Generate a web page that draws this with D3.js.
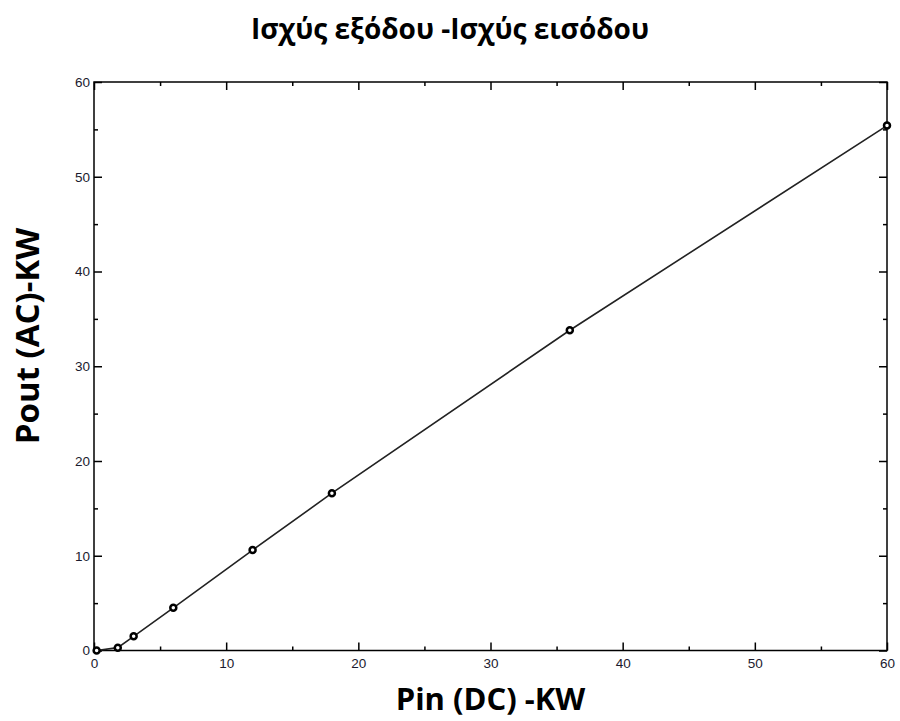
<!DOCTYPE html>
<html>
<head>
<meta charset="utf-8">
<script src="https://cdn.jsdelivr.net/npm/d3@7"></script>
<style>
  body { margin: 0; background: #fff; }
  svg { display: block; }
</style>
</head>
<body>
<svg width="900" height="721"></svg>
<script>
// data
var pinDC = [0.2, 1.8, 3, 6, 12, 18, 36, 60];
var poutAC = [0, 0.3, 1.5, 4.5, 10.6, 16.6, 33.8, 55.4];
var xTicks = [0, 10, 20, 30, 40, 50, 60];
var yTicks = [0, 10, 20, 30, 40, 50, 60];
var titleText = "Ισχύς εξόδου -Ισχύς εισόδου";
var xLabel = "Pin (DC) -KW";
var yLabel = "Pout (AC)-KW";

var svg = d3.select("svg");
var mLeft = 94, mRight = 887, mTop = 82, mBottom = 650.5;

var x = d3.scaleLinear().domain([0, 60]).range([mLeft, mRight]);
var y = d3.scaleLinear().domain([0, 60]).range([mBottom, mTop]);

var minorX = d3.range(5, 60, 10), minorY = d3.range(5, 60, 10);

// axes on all four sides, ticks pointing inward
function styleAxis(g) {
  g.select(".domain").remove();
  g.selectAll("line").attr("stroke", "#000").attr("stroke-width", 1.5);
  g.selectAll("text").attr("font-family", "Arial, 'Liberation Sans', sans-serif")
    .attr("font-size", 13.5).attr("fill", "#1a1a2e");
}

svg.append("g").attr("transform", "translate(0," + mBottom + ")")
  .call(d3.axisBottom(x).tickValues(xTicks).tickSize(-8).tickPadding(8).tickFormat(d3.format("d")))
  .call(styleAxis);
svg.append("g").attr("transform", "translate(0," + mBottom + ")")
  .call(d3.axisBottom(x).tickValues(minorX).tickSize(-4).tickFormat(""))
  .call(styleAxis);
svg.append("g").attr("transform", "translate(0," + mTop + ")")
  .call(d3.axisTop(x).tickValues(xTicks).tickSize(-8).tickFormat(""))
  .call(styleAxis);
svg.append("g").attr("transform", "translate(0," + mTop + ")")
  .call(d3.axisTop(x).tickValues(minorX).tickSize(-4).tickFormat(""))
  .call(styleAxis);

svg.append("g").attr("transform", "translate(" + mLeft + ",0)")
  .call(d3.axisLeft(y).tickValues(yTicks).tickSize(-8).tickPadding(4).tickFormat(d3.format("d")))
  .call(styleAxis);
svg.append("g").attr("transform", "translate(" + mLeft + ",0)")
  .call(d3.axisLeft(y).tickValues(minorY).tickSize(-4).tickFormat(""))
  .call(styleAxis);
svg.append("g").attr("transform", "translate(" + mRight + ",0)")
  .call(d3.axisRight(y).tickValues(yTicks).tickSize(-8).tickFormat(""))
  .call(styleAxis);
svg.append("g").attr("transform", "translate(" + mRight + ",0)")
  .call(d3.axisRight(y).tickValues(minorY).tickSize(-4).tickFormat(""))
  .call(styleAxis);

// frame
svg.append("rect")
  .attr("x", mLeft).attr("y", mTop)
  .attr("width", mRight - mLeft).attr("height", mBottom - mTop)
  .attr("fill", "none").attr("stroke", "#000").attr("stroke-width", 1.5);

var pts = pinDC.map(function (d, i) { return [d, poutAC[i]]; });

svg.append("path")
  .datum(pts)
  .attr("fill", "none")
  .attr("stroke", "#222")
  .attr("stroke-width", 1.6)
  .attr("d", d3.line().x(function (d) { return x(d[0]); }).y(function (d) { return y(d[1]); }));

svg.selectAll("circle.pt").data(pts).enter()
  .append("circle")
    .attr("class", "pt")
    .attr("cx", function (d) { return x(d[0]); })
    .attr("cy", function (d) { return y(d[1]); })
    .attr("r", 3)
    .attr("fill", "#fff")
    .attr("stroke", "#000")
    .attr("stroke-width", 2.5);

var labelFont = "'Open Sans', 'Noto Sans', sans-serif";

svg.append("text")
  .attr("x", 450).attr("y", 39)
  .attr("text-anchor", "middle")
  .attr("font-family", labelFont).attr("font-weight", "bold").attr("font-size", 28)
  .text(titleText);

svg.append("text")
  .attr("x", (mLeft + mRight) / 2).attr("y", 710)
  .attr("text-anchor", "middle")
  .attr("font-family", labelFont).attr("font-weight", "bold").attr("font-size", 31)
  .text(xLabel);

svg.append("text")
  .attr("transform", "translate(39,336) rotate(-90)")
  .attr("text-anchor", "middle")
  .attr("font-family", labelFont).attr("font-weight", "bold").attr("font-size", 33)
  .text(yLabel);
</script>
</body>
</html>
